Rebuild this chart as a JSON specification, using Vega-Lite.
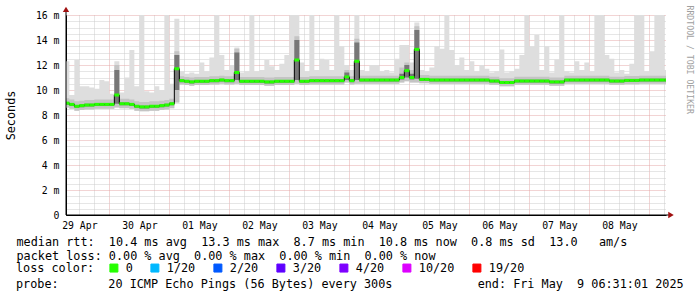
{
  "$schema": "https://vega.github.io/schema/vega-lite/v6.json",
  "width": 600,
  "height": 200,
  "autosize": {"type": "none"},
  "padding": {"left": 66, "top": 15, "right": 31, "bottom": 82},
  "background": "white",
  "config": {"view": {"stroke": null}, "font": "DejaVu Sans Mono"},
  "title": {
    "text": "probe:\u00a0\u00a0\u00a0\u00a0\u00a0\u00a0 20 ICMP Echo Pings (56 Bytes) every 300s\u00a0\u00a0\u00a0\u00a0\u00a0\u00a0\u00a0\u00a0\u00a0\u00a0\u00a0 end: Fri May\u00a0 9 06:31:01 2025",
    "orient": "bottom", "anchor": "start", "frame": "group",
    "dx": -50, "offset": 4, "baseline": "top",
    "font": "DejaVu Sans Mono", "fontSize": 11.8, "fontWeight": "normal", "color": "black"
  },
  "data": {"values": [
    {"t":"2025-04-29T06:00Z","lo":8.6,"q1":8.83,"md":8.95,"q3":9.05,"p9":9.35,"hi":12.3},
    {"t":"2025-04-29T08:00Z","lo":8.5,"q1":8.73,"md":8.85,"q3":8.95,"p9":9.25,"hi":9.6},
    {"t":"2025-04-29T10:00Z","lo":8.35,"q1":8.58,"md":8.7,"q3":8.8,"p9":9.1,"hi":12.4},
    {"t":"2025-04-29T12:00Z","lo":8.4,"q1":8.63,"md":8.75,"q3":8.85,"p9":9.15,"hi":10.3},
    {"t":"2025-04-29T14:00Z","lo":8.45,"q1":8.68,"md":8.8,"q3":8.9,"p9":9.2,"hi":10.3},
    {"t":"2025-04-29T16:00Z","lo":8.45,"q1":8.68,"md":8.8,"q3":8.9,"p9":9.2,"hi":10.2},
    {"t":"2025-04-29T18:00Z","lo":8.5,"q1":8.73,"md":8.85,"q3":8.95,"p9":9.25,"hi":10.1},
    {"t":"2025-04-29T20:00Z","lo":8.5,"q1":8.73,"md":8.85,"q3":8.95,"p9":9.25,"hi":10.8},
    {"t":"2025-04-29T22:00Z","lo":8.5,"q1":8.73,"md":8.85,"q3":8.95,"p9":9.25,"hi":10.7},
    {"t":"2025-04-30T00:00Z","lo":8.5,"q1":8.73,"md":8.85,"q3":8.95,"p9":9.25,"hi":9.7},
    {"t":"2025-04-30T02:00Z","lo":8.6,"q1":8.9,"md":9.6,"q3":11.6,"p9":12.0,"hi":12.3},
    {"t":"2025-04-30T04:00Z","lo":8.55,"q1":8.78,"md":8.9,"q3":9.0,"p9":9.3,"hi":9.8},
    {"t":"2025-04-30T06:00Z","lo":8.55,"q1":8.78,"md":8.9,"q3":9.0,"p9":9.3,"hi":11.0},
    {"t":"2025-04-30T08:00Z","lo":8.5,"q1":8.73,"md":8.85,"q3":8.95,"p9":9.25,"hi":13.2},
    {"t":"2025-04-30T10:00Z","lo":8.35,"q1":8.58,"md":8.7,"q3":8.8,"p9":9.1,"hi":10.3},
    {"t":"2025-04-30T12:00Z","lo":8.3,"q1":8.53,"md":8.65,"q3":8.75,"p9":9.05,"hi":16},
    {"t":"2025-04-30T14:00Z","lo":8.3,"q1":8.53,"md":8.65,"q3":8.75,"p9":9.05,"hi":9.9},
    {"t":"2025-04-30T16:00Z","lo":8.35,"q1":8.58,"md":8.7,"q3":8.8,"p9":9.1,"hi":9.8},
    {"t":"2025-04-30T18:00Z","lo":8.35,"q1":8.58,"md":8.7,"q3":8.8,"p9":9.1,"hi":10.3},
    {"t":"2025-04-30T20:00Z","lo":8.4,"q1":8.63,"md":8.75,"q3":8.85,"p9":9.15,"hi":10.0},
    {"t":"2025-04-30T22:00Z","lo":8.45,"q1":8.68,"md":8.8,"q3":8.9,"p9":9.2,"hi":16},
    {"t":"2025-05-01T00:00Z","lo":8.55,"q1":8.78,"md":8.9,"q3":9.0,"p9":9.3,"hi":10.5},
    {"t":"2025-05-01T02:00Z","lo":9.0,"q1":10.0,"md":11.7,"q3":12.8,"p9":13.1,"hi":15.7},
    {"t":"2025-05-01T04:00Z","lo":10.45,"q1":10.63,"md":10.75,"q3":10.85,"p9":11.1,"hi":11.5},
    {"t":"2025-05-01T06:00Z","lo":10.4,"q1":10.58,"md":10.7,"q3":10.8,"p9":11.05,"hi":11.3},
    {"t":"2025-05-01T08:00Z","lo":10.35,"q1":10.53,"md":10.65,"q3":10.75,"p9":11.0,"hi":11.4},
    {"t":"2025-05-01T10:00Z","lo":10.4,"q1":10.58,"md":10.7,"q3":10.8,"p9":11.05,"hi":11.3},
    {"t":"2025-05-01T12:00Z","lo":10.4,"q1":10.58,"md":10.7,"q3":10.8,"p9":11.05,"hi":12.2},
    {"t":"2025-05-01T14:00Z","lo":10.4,"q1":10.58,"md":10.7,"q3":10.8,"p9":11.05,"hi":11.5},
    {"t":"2025-05-01T16:00Z","lo":10.45,"q1":10.63,"md":10.75,"q3":10.85,"p9":11.1,"hi":12.6},
    {"t":"2025-05-01T18:00Z","lo":10.45,"q1":10.63,"md":10.75,"q3":10.85,"p9":11.1,"hi":16},
    {"t":"2025-05-01T20:00Z","lo":10.5,"q1":10.68,"md":10.8,"q3":10.9,"p9":11.15,"hi":12.8},
    {"t":"2025-05-01T22:00Z","lo":10.45,"q1":10.63,"md":10.75,"q3":10.85,"p9":11.1,"hi":11.6},
    {"t":"2025-05-02T00:00Z","lo":10.45,"q1":10.63,"md":10.75,"q3":10.85,"p9":11.1,"hi":12.0},
    {"t":"2025-05-02T02:00Z","lo":10.5,"q1":10.8,"md":11.4,"q3":13.0,"p9":13.3,"hi":13.4},
    {"t":"2025-05-02T04:00Z","lo":10.4,"q1":10.58,"md":10.7,"q3":10.8,"p9":11.05,"hi":11.4},
    {"t":"2025-05-02T06:00Z","lo":10.4,"q1":10.58,"md":10.7,"q3":10.8,"p9":11.05,"hi":11.5},
    {"t":"2025-05-02T08:00Z","lo":10.4,"q1":10.58,"md":10.7,"q3":10.8,"p9":11.05,"hi":16},
    {"t":"2025-05-02T10:00Z","lo":10.4,"q1":10.58,"md":10.7,"q3":10.8,"p9":11.05,"hi":11.5},
    {"t":"2025-05-02T12:00Z","lo":10.4,"q1":10.58,"md":10.7,"q3":10.8,"p9":11.05,"hi":11.6},
    {"t":"2025-05-02T14:00Z","lo":10.35,"q1":10.53,"md":10.65,"q3":10.75,"p9":11.0,"hi":12.4},
    {"t":"2025-05-02T16:00Z","lo":10.35,"q1":10.53,"md":10.65,"q3":10.75,"p9":11.0,"hi":11.9},
    {"t":"2025-05-02T18:00Z","lo":10.4,"q1":10.58,"md":10.7,"q3":10.8,"p9":11.05,"hi":11.6},
    {"t":"2025-05-02T20:00Z","lo":10.4,"q1":10.58,"md":10.7,"q3":10.8,"p9":11.05,"hi":12.1},
    {"t":"2025-05-02T22:00Z","lo":10.4,"q1":10.58,"md":10.7,"q3":10.8,"p9":11.05,"hi":12.8},
    {"t":"2025-05-03T00:00Z","lo":10.4,"q1":10.58,"md":10.7,"q3":10.8,"p9":11.05,"hi":16},
    {"t":"2025-05-03T02:00Z","lo":10.5,"q1":10.8,"md":12.4,"q3":14.0,"p9":14.3,"hi":16},
    {"t":"2025-05-03T04:00Z","lo":10.4,"q1":10.58,"md":10.7,"q3":10.8,"p9":11.05,"hi":12.2},
    {"t":"2025-05-03T06:00Z","lo":10.4,"q1":10.58,"md":10.7,"q3":10.8,"p9":11.05,"hi":11.5},
    {"t":"2025-05-03T08:00Z","lo":10.45,"q1":10.63,"md":10.75,"q3":10.85,"p9":11.1,"hi":16},
    {"t":"2025-05-03T10:00Z","lo":10.45,"q1":10.63,"md":10.75,"q3":10.85,"p9":11.1,"hi":11.6},
    {"t":"2025-05-03T12:00Z","lo":10.45,"q1":10.63,"md":10.75,"q3":10.85,"p9":11.1,"hi":12.5},
    {"t":"2025-05-03T14:00Z","lo":10.45,"q1":10.63,"md":10.75,"q3":10.85,"p9":11.1,"hi":12.4},
    {"t":"2025-05-03T16:00Z","lo":10.45,"q1":10.63,"md":10.75,"q3":10.85,"p9":11.1,"hi":11.6},
    {"t":"2025-05-03T18:00Z","lo":10.45,"q1":10.63,"md":10.75,"q3":10.85,"p9":11.1,"hi":16},
    {"t":"2025-05-03T20:00Z","lo":10.45,"q1":10.63,"md":10.75,"q3":10.85,"p9":11.1,"hi":13.5},
    {"t":"2025-05-03T22:00Z","lo":10.6,"q1":10.8,"md":11.05,"q3":11.4,"p9":11.6,"hi":12.0},
    {"t":"2025-05-04T00:00Z","lo":10.45,"q1":10.63,"md":10.75,"q3":10.85,"p9":11.1,"hi":11.6},
    {"t":"2025-05-04T02:00Z","lo":10.5,"q1":10.8,"md":12.3,"q3":13.8,"p9":14.1,"hi":16},
    {"t":"2025-05-04T04:00Z","lo":10.5,"q1":10.68,"md":10.8,"q3":10.9,"p9":11.15,"hi":11.6},
    {"t":"2025-05-04T06:00Z","lo":10.5,"q1":10.68,"md":10.8,"q3":10.9,"p9":11.15,"hi":11.5},
    {"t":"2025-05-04T08:00Z","lo":10.5,"q1":10.68,"md":10.8,"q3":10.9,"p9":11.15,"hi":12.0},
    {"t":"2025-05-04T10:00Z","lo":10.5,"q1":10.68,"md":10.8,"q3":10.9,"p9":11.15,"hi":12.0},
    {"t":"2025-05-04T12:00Z","lo":10.5,"q1":10.68,"md":10.8,"q3":10.9,"p9":11.15,"hi":11.5},
    {"t":"2025-05-04T14:00Z","lo":10.5,"q1":10.68,"md":10.8,"q3":10.9,"p9":11.15,"hi":11.6},
    {"t":"2025-05-04T16:00Z","lo":10.5,"q1":10.68,"md":10.8,"q3":10.9,"p9":11.15,"hi":11.4},
    {"t":"2025-05-04T18:00Z","lo":10.5,"q1":10.68,"md":10.8,"q3":10.9,"p9":11.15,"hi":12.5},
    {"t":"2025-05-04T20:00Z","lo":10.6,"q1":10.85,"md":11.0,"q3":11.3,"p9":11.8,"hi":13.6},
    {"t":"2025-05-04T22:00Z","lo":10.7,"q1":11.0,"md":11.55,"q3":12.0,"p9":12.2,"hi":13.6},
    {"t":"2025-05-05T00:00Z","lo":10.6,"q1":10.85,"md":11.0,"q3":11.3,"p9":11.6,"hi":12.2},
    {"t":"2025-05-05T02:00Z","lo":10.6,"q1":10.9,"md":13.25,"q3":14.8,"p9":15.1,"hi":15.4},
    {"t":"2025-05-05T04:00Z","lo":10.55,"q1":10.73,"md":10.85,"q3":10.95,"p9":11.2,"hi":11.6},
    {"t":"2025-05-05T06:00Z","lo":10.55,"q1":10.73,"md":10.85,"q3":10.95,"p9":11.2,"hi":11.5},
    {"t":"2025-05-05T08:00Z","lo":10.5,"q1":10.68,"md":10.8,"q3":10.9,"p9":11.15,"hi":11.8},
    {"t":"2025-05-05T10:00Z","lo":10.5,"q1":10.68,"md":10.8,"q3":10.9,"p9":11.15,"hi":13.5},
    {"t":"2025-05-05T12:00Z","lo":10.5,"q1":10.68,"md":10.8,"q3":10.9,"p9":11.15,"hi":13.3},
    {"t":"2025-05-05T14:00Z","lo":10.5,"q1":10.68,"md":10.8,"q3":10.9,"p9":11.15,"hi":16},
    {"t":"2025-05-05T16:00Z","lo":10.5,"q1":10.68,"md":10.8,"q3":10.9,"p9":11.15,"hi":13.2},
    {"t":"2025-05-05T18:00Z","lo":10.5,"q1":10.68,"md":10.8,"q3":10.9,"p9":11.15,"hi":12.0},
    {"t":"2025-05-05T20:00Z","lo":10.5,"q1":10.68,"md":10.8,"q3":10.9,"p9":11.15,"hi":12.6},
    {"t":"2025-05-05T22:00Z","lo":10.5,"q1":10.68,"md":10.8,"q3":10.9,"p9":11.15,"hi":11.6},
    {"t":"2025-05-06T00:00Z","lo":10.5,"q1":10.68,"md":10.8,"q3":10.9,"p9":11.15,"hi":12.3},
    {"t":"2025-05-06T02:00Z","lo":10.5,"q1":10.68,"md":10.8,"q3":10.9,"p9":11.15,"hi":11.5},
    {"t":"2025-05-06T04:00Z","lo":10.5,"q1":10.68,"md":10.8,"q3":10.9,"p9":11.15,"hi":12.0},
    {"t":"2025-05-06T06:00Z","lo":10.5,"q1":10.68,"md":10.8,"q3":10.9,"p9":11.15,"hi":11.7},
    {"t":"2025-05-06T08:00Z","lo":10.42,"q1":10.6,"md":10.72,"q3":10.82,"p9":11.07,"hi":11.4},
    {"t":"2025-05-06T10:00Z","lo":10.42,"q1":10.6,"md":10.72,"q3":10.82,"p9":11.07,"hi":11.5},
    {"t":"2025-05-06T12:00Z","lo":10.3,"q1":10.48,"md":10.6,"q3":10.7,"p9":10.95,"hi":13.25},
    {"t":"2025-05-06T14:00Z","lo":10.3,"q1":10.48,"md":10.6,"q3":10.7,"p9":10.95,"hi":11.4},
    {"t":"2025-05-06T16:00Z","lo":10.3,"q1":10.48,"md":10.6,"q3":10.7,"p9":10.95,"hi":11.5},
    {"t":"2025-05-06T18:00Z","lo":10.42,"q1":10.6,"md":10.72,"q3":10.82,"p9":11.07,"hi":11.7},
    {"t":"2025-05-06T20:00Z","lo":10.42,"q1":10.6,"md":10.72,"q3":10.82,"p9":11.07,"hi":12.8},
    {"t":"2025-05-06T22:00Z","lo":10.42,"q1":10.6,"md":10.72,"q3":10.82,"p9":11.07,"hi":16},
    {"t":"2025-05-07T00:00Z","lo":10.42,"q1":10.6,"md":10.72,"q3":10.82,"p9":11.07,"hi":13.5},
    {"t":"2025-05-07T02:00Z","lo":10.42,"q1":10.6,"md":10.72,"q3":10.82,"p9":11.07,"hi":14.4},
    {"t":"2025-05-07T04:00Z","lo":10.42,"q1":10.6,"md":10.72,"q3":10.82,"p9":11.07,"hi":11.6},
    {"t":"2025-05-07T06:00Z","lo":10.42,"q1":10.6,"md":10.72,"q3":10.82,"p9":11.07,"hi":13.5},
    {"t":"2025-05-07T08:00Z","lo":10.35,"q1":10.53,"md":10.65,"q3":10.75,"p9":11.0,"hi":11.4},
    {"t":"2025-05-07T10:00Z","lo":10.35,"q1":10.53,"md":10.65,"q3":10.75,"p9":11.0,"hi":12.45},
    {"t":"2025-05-07T12:00Z","lo":10.35,"q1":10.53,"md":10.65,"q3":10.75,"p9":11.0,"hi":16},
    {"t":"2025-05-07T14:00Z","lo":10.5,"q1":10.68,"md":10.8,"q3":10.9,"p9":11.15,"hi":11.5},
    {"t":"2025-05-07T16:00Z","lo":10.5,"q1":10.68,"md":10.8,"q3":10.9,"p9":11.15,"hi":11.4},
    {"t":"2025-05-07T18:00Z","lo":10.5,"q1":10.68,"md":10.8,"q3":10.9,"p9":11.15,"hi":12.3},
    {"t":"2025-05-07T20:00Z","lo":10.5,"q1":10.68,"md":10.8,"q3":10.9,"p9":11.15,"hi":11.6},
    {"t":"2025-05-07T22:00Z","lo":10.5,"q1":10.68,"md":10.8,"q3":10.9,"p9":11.15,"hi":12.2},
    {"t":"2025-05-08T00:00Z","lo":10.5,"q1":10.68,"md":10.8,"q3":10.9,"p9":11.15,"hi":11.5},
    {"t":"2025-05-08T02:00Z","lo":10.5,"q1":10.68,"md":10.8,"q3":10.9,"p9":11.15,"hi":16},
    {"t":"2025-05-08T04:00Z","lo":10.5,"q1":10.68,"md":10.8,"q3":10.9,"p9":11.15,"hi":16},
    {"t":"2025-05-08T06:00Z","lo":10.5,"q1":10.68,"md":10.8,"q3":10.9,"p9":11.15,"hi":12.8},
    {"t":"2025-05-08T08:00Z","lo":10.42,"q1":10.6,"md":10.72,"q3":10.82,"p9":11.07,"hi":12.5},
    {"t":"2025-05-08T10:00Z","lo":10.42,"q1":10.6,"md":10.72,"q3":10.82,"p9":11.07,"hi":11.4},
    {"t":"2025-05-08T12:00Z","lo":10.42,"q1":10.6,"md":10.72,"q3":10.82,"p9":11.07,"hi":11.6},
    {"t":"2025-05-08T14:00Z","lo":10.47,"q1":10.65,"md":10.77,"q3":10.87,"p9":11.12,"hi":11.3},
    {"t":"2025-05-08T16:00Z","lo":10.47,"q1":10.65,"md":10.77,"q3":10.87,"p9":11.12,"hi":12.1},
    {"t":"2025-05-08T18:00Z","lo":10.47,"q1":10.65,"md":10.77,"q3":10.87,"p9":11.12,"hi":16},
    {"t":"2025-05-08T20:00Z","lo":10.5,"q1":10.68,"md":10.8,"q3":10.9,"p9":11.15,"hi":16},
    {"t":"2025-05-08T22:00Z","lo":10.5,"q1":10.68,"md":10.8,"q3":10.9,"p9":11.15,"hi":11.5},
    {"t":"2025-05-09T00:00Z","lo":10.5,"q1":10.68,"md":10.8,"q3":10.9,"p9":11.15,"hi":13.1},
    {"t":"2025-05-09T02:00Z","lo":10.5,"q1":10.68,"md":10.8,"q3":10.9,"p9":11.15,"hi":16},
    {"t":"2025-05-09T04:00Z","lo":10.5,"q1":10.68,"md":10.8,"q3":10.9,"p9":11.15,"hi":16},
    {"t":"2025-05-09T06:00Z","lo":10.5,"q1":10.68,"md":10.8,"q3":10.9,"p9":11.15,"hi":11.6},
    {"t":"2025-05-09T08:00Z","lo":10.5,"q1":10.68,"md":10.8,"q3":10.9,"p9":11.15,"hi":11.6}
  ]},
  "encoding": {
    "x": {
      "field": "t", "type": "temporal",
      "scale": {"type": "utc", "domain": [1745908800000, 1746772800000]},
      "axis": {
        "title": [
          "median rtt:\u00a0 10.4 ms avg\u00a0 13.3 ms max\u00a0 8.7 ms min\u00a0 10.8 ms now\u00a0 0.8 ms sd\u00a0 13.0\u00a0\u00a0 am/s",
          "packet loss: 0.00 % avg\u00a0 0.00 % max\u00a0 0.00 % min\u00a0 0.00 % now"
        ],
        "titleFont": "DejaVu Sans Mono", "titleFontSize": 11.8, "titleFontWeight": "normal",
        "titleColor": "black", "titleAlign": "left",
        "titleX": -50, "titleY": 30, "titleBaseline": "alphabetic", "titleLineHeight": 14,
        "values": [1745928000000,1745949600000,1745971200000,1745992800000,1746014400000,1746036000000,1746057600000,1746079200000,1746100800000,1746122400000,1746144000000,1746165600000,1746187200000,1746208800000,1746230400000,1746252000000,1746273600000,1746295200000,1746316800000,1746338400000,1746360000000,1746381600000,1746403200000,1746424800000,1746446400000,1746468000000,1746489600000,1746511200000,1746532800000,1746554400000,1746576000000,1746597600000,1746619200000,1746640800000,1746662400000,1746684000000,1746705600000,1746727200000,1746748800000,1746770400000],
        "labelExpr": "utchours(datum.value) == 12 ? utcFormat(datum.value, '%d %b') : ''",
        "labelFont": "DejaVu Sans Mono", "labelFontSize": 9.8, "labelColor": "black",
        "labelBaseline": "alphabetic", "labelPadding": 13, "labelOverlap": false,
        "ticks": false, "tickSize": 0, "domainColor": "black",
        "grid": true,
        "gridColor": {"condition": {"test": "utchours(datum.value) == 0", "value": "#e4a8a8"}, "value": "#cccccc"},
        "gridDash": [1, 1], "zindex": 0
      }
    }
  },
  "layer": [
    {
      "mark": {"type": "area", "interpolate": "step-after", "color": "#dedede", "clip": true},
      "encoding": {
        "y": {
          "field": "lo", "type": "quantitative",
          "scale": {"domain": [0, 16], "nice": false, "zero": false},
          "axis": {
            "title": "Seconds",
            "titleFont": "DejaVu Sans Mono", "titleFontSize": 11.8, "titleFontWeight": "normal",
            "titleColor": "black", "titleX": -55.5, "titleBaseline": "middle",
            "values": [0,0.5,1,1.5,2,2.5,3,3.5,4,4.5,5,5.5,6,6.5,7,7.5,8,8.5,9,9.5,10,10.5,11,11.5,12,12.5,13,13.5,14,14.5,15,15.5,16],
            "labelExpr": "datum.value % 2 == 0 ? (datum.value == 0 ? '0\u00a0\u00a0' : datum.value + ' m') : ''",
            "labelFont": "DejaVu Sans Mono", "labelFontSize": 9.8, "labelColor": "black",
            "labelPadding": 7, "labelOverlap": false,
            "ticks": false, "tickSize": 0, "domainColor": "black",
            "grid": true,
            "gridColor": {"condition": {"test": "datum.value % 2 == 0", "value": "#e4a8a8"}, "value": "#cccccc"},
            "gridDash": [1, 1], "zindex": 0
          }
        },
        "y2": {"field": "hi"}
      }
    },
    {
      "mark": {"type": "area", "interpolate": "step-after", "color": "#c4c4c4", "clip": true},
      "encoding": {
        "y": {
          "field": "lo", "type": "quantitative",
          "axis": {
            "orient": "right", "title": "RRDTOOL / TOBI OETIKER",
            "labels": false, "ticks": false, "domain": false, "grid": false,
            "titleAngle": 90, "titleFont": "DejaVu Sans Mono", "titleFontSize": 8.2,
            "titleFontWeight": "normal", "titleColor": "#a0a0a0",
            "titleX": 22.5, "titleY": -10, "titleAlign": "left", "titleBaseline": "middle"
          }
        },
        "y2": {"field": "p9"}
      }
    },
    {
      "mark": {"type": "area", "interpolate": "step-after", "color": "#777777", "clip": true},
      "encoding": {
        "y": {"field": "q1", "type": "quantitative", "axis": null},
        "y2": {"field": "q3"}
      }
    },
    {
      "mark": {"type": "line", "interpolate": "step-after", "color": "black", "strokeWidth": 1, "clip": true},
      "encoding": {
        "y": {"field": "md", "type": "quantitative", "axis": null}
      }
    },
    {
      "transform": [{"window": [{"op": "lead", "field": "t", "as": "t2"}]}],
      "mark": {"type": "rule", "strokeWidth": 3, "clip": true},
      "encoding": {
        "x2": {"field": "t2"},
        "y": {"field": "md", "type": "quantitative", "axis": null},
        "color": {
          "datum": "0", "type": "nominal",
          "scale": {
            "domain": ["0", "1/20", "2/20", "3/20", "4/20", "10/20", "19/20"],
            "range": ["#26ff00", "#00b8ff", "#0059ff", "#5e00ff", "#7e00ff", "#dd00ff", "#ff0000"]
          },
          "legend": {
            "title": "loss color:", "orient": "none", "legendX": -50, "legendY": 247,
            "direction": "horizontal", "columns": 7,
            "titleOrient": "left", "titleFont": "DejaVu Sans Mono", "titleFontSize": 11.8,
            "titleFontWeight": "normal", "titleColor": "black", "titlePadding": 13,
            "labelFont": "DejaVu Sans Mono", "labelFontSize": 11.8, "labelColor": "black",
            "labelOffset": 6, "columnPadding": 15,
            "symbolType": "square", "symbolSize": 64, "symbolStrokeColor": "black", "symbolStrokeWidth": 1,
            "encode": {"symbols": {"update": {"fill": {"scale": "color", "field": "value"}, "stroke": {"value": "black"}, "opacity": {"value": 1}, "fillOpacity": {"value": 1}}}}
          }
        }
      }
    },
    {
      "data": {"values": [
        {"t": "2025-04-29T06:40Z", "t2": "2025-05-09T08:40Z", "y": 0, "y2": 0},
        {"t": "2025-04-29T06:40Z", "t2": "2025-04-29T06:40Z", "y": 0, "y2": 16.45}
      ]},
      "mark": {"type": "rule", "color": "black", "strokeWidth": 1},
      "encoding": {
        "x2": {"field": "t2"},
        "y": {"field": "y", "type": "quantitative", "axis": null},
        "y2": {"field": "y2"}
      }
    },
    {
      "data": {"values": [{"t": "2025-05-09T08:40Z", "y": 0}]},
      "mark": {"type": "point", "shape": "triangle-right", "filled": true, "color": "#a01010", "size": 40, "opacity": 1},
      "encoding": {
        "y": {"field": "y", "type": "quantitative", "axis": null}
      }
    },
    {
      "data": {"values": [{"t": "2025-04-29T06:40Z", "y": 16.45}]},
      "mark": {"type": "point", "shape": "triangle-up", "filled": true, "color": "#a01010", "size": 40, "opacity": 1},
      "encoding": {
        "y": {"field": "y", "type": "quantitative", "axis": null}
      }
    }
  ],
  "resolve": {"axis": {"y": "independent"}}
}
